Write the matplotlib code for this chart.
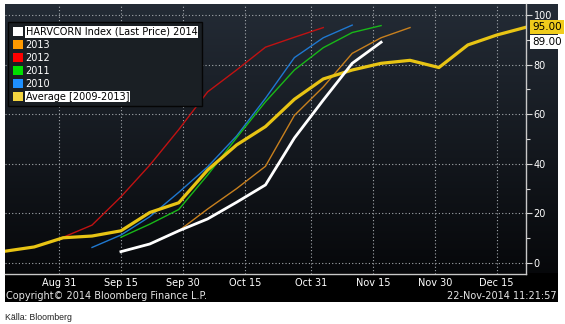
import matplotlib
matplotlib.use("Agg")
import matplotlib.pyplot as plt
from matplotlib.patches import Patch
import numpy as np
import pandas as pd

nan = np.nan

# weekly observation dates
dates = ["2014-08-18", "2014-08-25", "2014-09-01", "2014-09-08", "2014-09-15",
         "2014-09-22", "2014-09-29", "2014-10-06", "2014-10-13", "2014-10-20",
         "2014-10-27", "2014-11-03", "2014-11-10", "2014-11-17", "2014-11-24",
         "2014-12-01", "2014-12-08", "2014-12-15", "2014-12-22"]

# harvest progress, percent
avg_0913 = [4.8, 6.5, 10.2, 10.9, 13.0, 20.4, 24.3, 37.5, 47.6, 55.0, 66.0,
            74.2, 77.8, 80.5, 81.7, 78.8, 87.9, 91.9, 95.0]
y2014 = [nan, nan, nan, nan, 4.6, 7.7, 13.0, 17.8, 24.5, 31.5, 50.4, 65.7,
         80.5, 89.0, nan, nan, nan, nan, nan]
y2013 = [nan, nan, nan, nan, 4.6, 7.7, 13.0, 21.8, 30.0, 39.0, 59.5, 71.0,
         84.5, 90.8, 94.9, nan, nan, nan, nan]
y2012 = [nan, nan, 10.4, 15.3, 26.7, 39.5, 53.8, 69.0, 77.8, 87.0, 91.0, 94.9,
         nan, nan, nan, nan, nan, nan, nan]
y2011 = [nan, nan, nan, nan, 10.4, 15.7, 21.6, 35.5, 50.5, 65.0, 77.8, 86.8,
         92.9, 95.7, nan, nan, nan, nan, nan]
y2010 = [nan, nan, nan, 6.3, 11.3, 18.7, 28.5, 38.8, 51.2, 66.4, 82.8, 90.8,
         95.9, nan, nan, nan, nan, nan, nan]

tick_dates = ["2014-08-31", "2014-09-15", "2014-09-30", "2014-10-15",
              "2014-10-31", "2014-11-15", "2014-11-30", "2014-12-15"]
tick_labels = ["Aug 31", "Sep 15", "Sep 30", "Oct 15", "Oct 31", "Nov 15",
               "Nov 30", "Dec 15"]

x = pd.to_datetime(dates)

fig = plt.figure(figsize=(5.65, 3.24), dpi=100)

# dark gradient panel behind everything
bg = fig.add_axes([5 / 565, 22 / 324, 553 / 565, 298 / 324])
n = 300
t = np.linspace(0, 1, n)
top = np.array([0.14, 0.17, 0.21])
low = np.array([0.025, 0.03, 0.04])
k = np.clip(t / 0.906, 0, 1)[:, None]
grad = top * (1 - k) + low * k
grad[t > 0.906] = [0.0, 0.0, 0.0]
bg.imshow(grad[:, None, :], aspect="auto", extent=[0, 1, 0, 1])
bg.axis("off")

ax = fig.add_axes([5 / 565, 50 / 324, 521 / 565, 270 / 324])
ax.set_facecolor("none")

ax.plot(x, y2010, color="#1f78d0", lw=1.0)
ax.plot(x, y2011, color="#18b818", lw=1.0)
ax.plot(x, y2012, color="#c01212", lw=1.0)
ax.plot(x, y2013, color="#c8801e", lw=1.0)
ax.plot(x, avg_0913, color="#e8c414", lw=2.3)
ax.plot(x, y2014, color="white", lw=2.0)

ax.set_xlim(pd.Timestamp("2014-08-17 22:20"), pd.Timestamp("2014-12-22 02:00"))
ax.set_ylim(-4.4, 104.4)

ax.set_xticks(pd.to_datetime(tick_dates))
ax.set_xticklabels(tick_labels)
ax.yaxis.tick_right()
ax.set_yticks(np.arange(0, 101, 20))
ax.set_yticks(np.arange(10, 100, 20), minor=True)
ax.tick_params(axis="y", which="major", direction="out", colors="#d8d8d8",
               labelcolor="white", labelsize=7, length=4, width=0.8, pad=1.5)
ax.tick_params(axis="y", which="minor", direction="out", colors="#d8d8d8",
               length=3, width=0.8)
ax.tick_params(axis="x", length=0, labelcolor="white", labelsize=7, pad=3)

for s in ["top", "left"]:
    ax.spines[s].set_visible(False)
for s in ["bottom", "right"]:
    ax.spines[s].set_color("#c8c8c8")
    ax.spines[s].set_linewidth(1.0)

ax.grid(True, which="major", ls=(0, (1, 2)), color="#a4a9ae", lw=0.8)

# last value tags on the right
ax.text(1.012, avg_0913[-1], "95.00", transform=ax.get_yaxis_transform(),
        ha="left", va="center", fontsize=7.5, color="black", clip_on=False,
        bbox=dict(boxstyle="square,pad=0.2", facecolor="#f0cc1c", edgecolor="none"))
ax.text(1.012, y2014[13], "89.00", transform=ax.get_yaxis_transform(),
        ha="left", va="center", fontsize=7.5, color="black", clip_on=False,
        bbox=dict(boxstyle="square,pad=0.2", facecolor="white", edgecolor="none"))

labels = ["HARVCORN Index (Last Price) 2014", "2013", "2012", "2011", "2010",
          "Average [2009-2013]"]
colors = ["white", "#ff9a00", "#ff0000", "#00e000", "#1e90ff", "#f2d440"]
handles = [Patch(facecolor=c, edgecolor="none") for c in colors]
leg = ax.legend(handles, labels, loc="upper left", bbox_to_anchor=(0.006, 0.933),
                fontsize=7, frameon=True, facecolor="#1a1f24", edgecolor="#050505",
                framealpha=1, fancybox=False, handlelength=1.0, handleheight=1.05,
                handletextpad=0.3, labelspacing=0.3, borderpad=0.5,
                borderaxespad=0)
for i, txt in enumerate(leg.get_texts()):
    if i in (0, 5):
        txt.set_color("black")
        txt.set_bbox(dict(facecolor="white", edgecolor="none", pad=0.6))
    else:
        txt.set_color("white")

fig.text(6 / 565, 1 - 296 / 324, "Copyright\u00a9 2014 Bloomberg Finance L.P.",
         color="#e6e6e6", fontsize=7, va="center")
fig.text(557 / 565, 1 - 296 / 324, "22-Nov-2014 11:21:57",
         color="#e6e6e6", fontsize=7, va="center", ha="right")
fig.text(5 / 565, 1 - 317 / 324, "Källa: Bloomberg", color="#222222",
         fontsize=6.3, family="Liberation Sans", va="center")

fig.savefig("out.png", dpi=100, facecolor="white")
